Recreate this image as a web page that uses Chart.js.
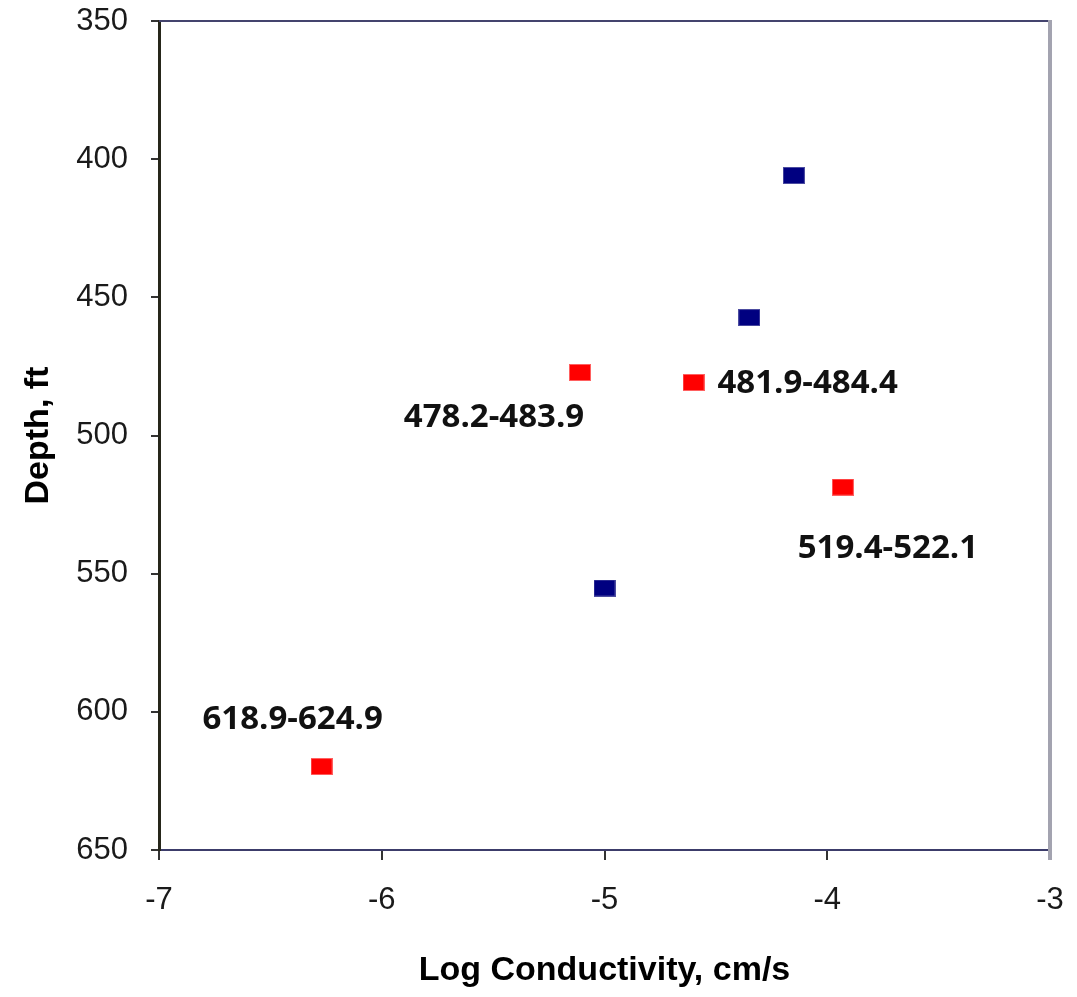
<!DOCTYPE html>
<html>
<head>
<meta charset="utf-8">
<script src="https://cdn.jsdelivr.net/npm/chart.js@4/dist/chart.umd.min.js"></script>
<style>
  body { margin: 0; background: #fff; }
  canvas { display: block; }
</style>
</head>
<body>
<canvas id="myChart" width="1077" height="997"></canvas>
<script>
// data
const blueK = [-4.15, -4.35, -5.0];
const blueDepth = [405.9, 457.3, 555.2];

const redK = [-5.11, -4.60, -3.93, -6.27];
const redDepth = [477.2, 480.8, 518.7, 619.8];
const redLabels = ['478.2-483.9', '481.9-484.4', '519.4-522.1', '618.9-624.9'];

const xTicks = [-7, -6, -5, -4, -3];
const yTicks = [350, 400, 450, 500, 550, 600, 650];

// where each red label sits relative to its point (px)
const labelOffsets = [[-86, 43], [114, -1], [45, 59], [-29, -50]];

function makeMarker(fill, edge) {
    const c = document.createElement('canvas');
    c.width = 22;
    c.height = 17;
    const g = c.getContext('2d');
    g.fillStyle = edge;
    g.fillRect(0, 0, 22, 17);
    g.fillStyle = fill;
    g.fillRect(1, 1, 20, 15);
    return c;
}

const toPoints = (xs, ys) => xs.map((x, i) => ({ x: x, y: ys[i] }));

// drop the extra room chart.js keeps for overhanging tick labels
function noOverhang(s) {
    s.paddingTop = 0;
    s.paddingBottom = 0;
    s.paddingLeft = 0;
    s.paddingRight = 0;
}

// frame lines on top and right + point labels
const extras = {
    id: 'extras',
    afterDatasetsDraw(chart) {
        const { ctx, chartArea } = chart;
        ctx.save();
        ctx.strokeStyle = '#44446e';
        ctx.lineWidth = 2;
        ctx.beginPath();
        ctx.moveTo(chartArea.left, chartArea.top);
        ctx.lineTo(chartArea.right, chartArea.top);
        ctx.stroke();
        ctx.strokeStyle = '#a3a3b0';
        ctx.lineWidth = 4;
        ctx.beginPath();
        ctx.moveTo(chartArea.right, chartArea.top - 1);
        ctx.lineTo(chartArea.right, chartArea.bottom + 10);
        ctx.stroke();

        const meta = chart.getDatasetMeta(1);
        ctx.font = 'bold 33px "Open Sans"';
        ctx.fillStyle = '#111';
        ctx.textAlign = 'center';
        ctx.textBaseline = 'alphabetic';
        meta.data.forEach((pt, i) => {
            const [dx, dy] = labelOffsets[i];
            ctx.fillText(redLabels[i], pt.x + dx, pt.y + dy + 12);
        });
        ctx.restore();
    }
};

const data = {
    datasets: [
        {
            label: 'blue',
            data: toPoints(blueK, blueDepth),
            pointStyle: makeMarker('#000080', '#4c4ca0'),
            showLine: false
        }, {
            label: 'red',
            data: toPoints(redK, redDepth),
            pointStyle: makeMarker('#ff0000', '#ff6060'),
            showLine: false
        }
    ]
};

const tickFont = { family: 'Liberation Sans', size: 31 };

const config = {
    type: 'scatter',
    data,
    options: {
        responsive: false,
        animation: false,
        layout: { padding: { top: 21, right: 27, left: 0, bottom: 0 } },
        plugins: {
            legend: { display: false },
            tooltip: { enabled: false }
        },
        scales: {
            x: {
                type: 'linear',
                min: -7,
                max: -3,
                afterBuildTicks: s => { s.ticks = xTicks.map(v => ({ value: v })); },
                afterFit: s => { s.height = 147; noOverhang(s); },
                ticks: { font: tickFont, color: '#1a1a1a', padding: 22, maxRotation: 0 },
                grid: { drawOnChartArea: false, tickLength: 10, color: '#333', lineWidth: 2 },
                border: { color: '#3c3c6a', width: 2 },
                title: {
                    display: true,
                    text: 'Log Conductivity, cm/s',
                    color: '#000',
                    font: { family: 'Liberation Sans', size: 34, weight: 'bold' },
                    padding: { bottom: 6 }
                }
            },
            y: {
                type: 'linear',
                reverse: true,
                min: 350,
                max: 650,
                afterBuildTicks: s => { s.ticks = yTicks.map(v => ({ value: v })); },
                afterFit: s => { s.width = 159; noOverhang(s); },
                ticks: { font: tickFont, color: '#1a1a1a', padding: 23 },
                grid: { drawOnChartArea: false, tickLength: 8, color: '#333', lineWidth: 2 },
                border: { color: '#26261a', width: 3 },
                title: {
                    display: true,
                    text: 'Depth, ft',
                    color: '#000',
                    font: { family: 'Liberation Sans', size: 34, weight: 'bold' },
                    padding: { top: 18 }
                }
            }
        }
    },
    plugins: [extras]
};

const myChart = new Chart(document.getElementById('myChart'), config);
</script>
</body>
</html>
